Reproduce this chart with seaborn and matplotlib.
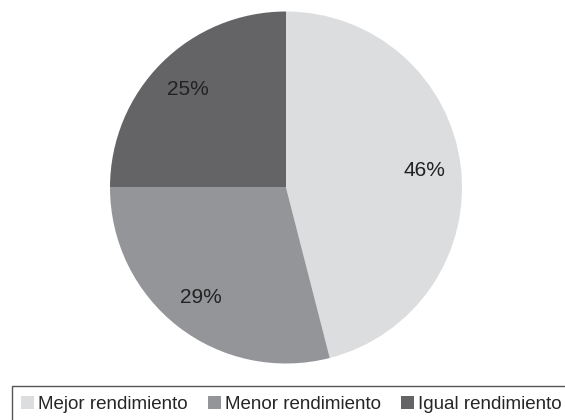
import matplotlib
matplotlib.use("Agg")
import matplotlib.pyplot as plt
import seaborn as sns
from matplotlib.patches import Rectangle, Patch

# data
categories = ["Mejor rendimiento", "Menor rendimiento", "Igual rendimiento"]
shares = [46, 29, 25]
colors = ["#dcdddf", "#939598", "#646466"]

sns.set_style("white")
plt.rcParams['font.family'] = ['Liberation Sans', 'DejaVu Sans']

W, H = 565, 420
fig = plt.figure(figsize=(W / 100, H / 100), dpi=100)

# pie axes: centre ~(286, 187) px, radius ~176 px
r = 176
cx, cy = 286, 187.5
ax = fig.add_axes([(cx - r) / W, (H - cy - r) / H, 2 * r / W, 2 * r / H])
ax.pie(shares, colors=colors, startangle=90, counterclock=False,
       autopct='%d%%', pctdistance=0.79,
       textprops={'fontsize': 15, 'color': '#222222'},
       wedgeprops={'linewidth': 0})
ax.set_xlim(-1, 1)
ax.set_ylim(-1, 1)
ax.set_aspect('equal')
ax.axis('off')

# legend frame (open on the right and bottom like the reference)
fig.patches.append(Rectangle((12 / W, -0.05), 0.99, (H - 386) / H + 0.05,
                             transform=fig.transFigure, fill=False,
                             edgecolor='#555555', linewidth=1.0))

handles = [Patch(facecolor=c, edgecolor='none') for c in colors]
fig.legend(handles, categories, ncol=3, frameon=False, loc='center left',
           bbox_to_anchor=(21 / W, 1 - 404.5 / H), fontsize=13.5,
           handlelength=0.7, handleheight=0.7, handletextpad=0.22,
           columnspacing=1.07, borderaxespad=0, borderpad=0)

fig.savefig("out.png", dpi=100)
